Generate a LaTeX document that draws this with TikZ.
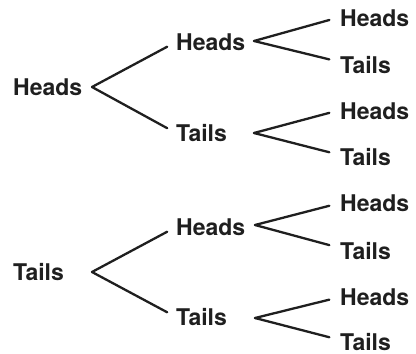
\documentclass[tikz,border=0pt]{standalone}
\usepackage{fontspec}
\setmainfont{TeX Gyre Heros}
\begin{document}
\begin{tikzpicture}[x=1pt,y=-1pt,
  lbl/.style={anchor=west,inner sep=0pt,text=black!88,
    font=\fontsize{23}{27}\selectfont\bfseries},
  branch/.style={draw=black!88,line width=2.3pt,shorten >=10pt,line cap=round}]
\useasboundingbox (0,0) rectangle (416,354);

% first flip
\node[lbl] (r1) at (13,87) {Heads};
\node[lbl] (r2) at (13,272) {Tails};

% second flip
\node[lbl] (a1) at (176,42) {Heads};
\node[lbl] (a2) at (176,133) {Tails};
\node[lbl] (a3) at (176,227) {Heads};
\node[lbl] (a4) at (176,317) {Tails};

% third flip
\node[lbl] (b1) at (340,18) {Heads};
\node[lbl] (b2) at (340,65) {Tails};
\node[lbl] (b3) at (340,111) {Heads};
\node[lbl] (b4) at (340,157) {Tails};
\node[lbl] (b5) at (340,203) {Heads};
\node[lbl] (b6) at (340,251) {Tails};
\node[lbl] (b7) at (340,297) {Heads};
\node[lbl] (b8) at (340,342) {Tails};

% fork points
\coordinate (v1) at (92,87);
\coordinate (v2) at (92,272);
\coordinate (w1) at (254,41);
\coordinate (w2) at (254,133);
\coordinate (w3) at (255,225);
\coordinate (w4) at (255,318);

\draw[branch] (v1) -- (a1.west);
\draw[branch] (v1) -- (a2.west);
\draw[branch] (v2) -- (a3.west);
\draw[branch] (v2) -- (a4.west);

\draw[branch,shorten >=11pt] (w1) -- ([yshift=1pt]b1.west);
\draw[branch,shorten >=11pt] (w1) -- ([yshift=3pt]b2.west);
\draw[branch,shorten >=11pt] (w2) -- ([yshift=1pt]b3.west);
\draw[branch,shorten >=11pt] (w2) -- ([yshift=2pt]b4.west);
\draw[branch,shorten >=11pt] (w3) -- ([yshift=0pt]b5.west);
\draw[branch,shorten >=11pt] (w3) -- ([yshift=3pt]b6.west);
\draw[branch,shorten >=11pt] (w4) -- ([yshift=0pt]b7.west);
\draw[branch,shorten >=11pt] (w4) -- ([yshift=2pt]b8.west);
\end{tikzpicture}
\end{document}
